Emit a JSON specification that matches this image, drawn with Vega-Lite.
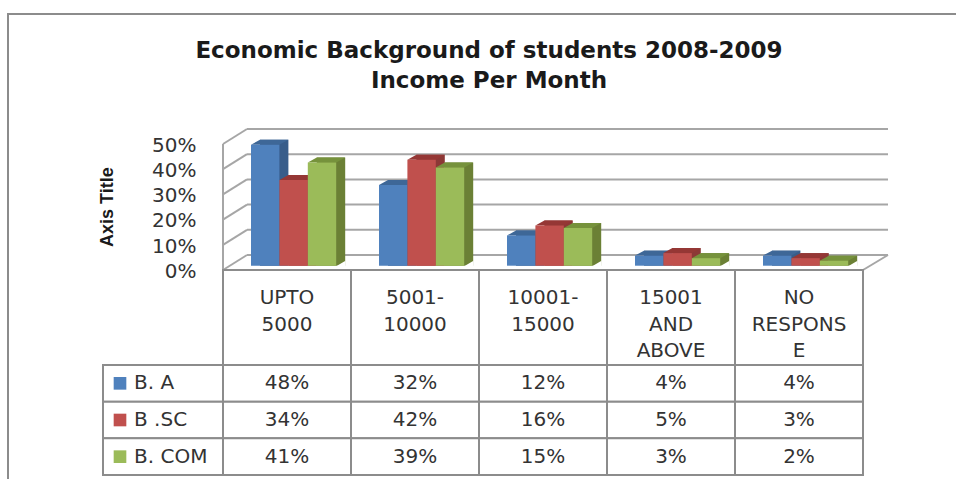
{"$schema":"https://vega.github.io/schema/vega-lite/v6.json","width":640,"height":126,"autosize":"none","padding":{"left":223,"top":139.7,"right":93,"bottom":213.3},"background":"white","title":{"text":["Economic Background of students 2008-2009","Income Per Month"],"anchor":"middle","dx":-54,"offset":-80,"font":"DejaVu Sans","fontSize":23,"fontWeight":"bold","color":"#1a1a1a","lineHeight":30},"view":{"stroke":null},"datasets":{"main":[{"category":"UPTO 5000","series":"B. A","value":0.48},{"category":"UPTO 5000","series":"B .SC","value":0.34},{"category":"UPTO 5000","series":"B. COM","value":0.41},{"category":"5001-10000","series":"B. A","value":0.32},{"category":"5001-10000","series":"B .SC","value":0.42},{"category":"5001-10000","series":"B. COM","value":0.39},{"category":"10001-15000","series":"B. A","value":0.12},{"category":"10001-15000","series":"B .SC","value":0.16},{"category":"10001-15000","series":"B. COM","value":0.15},{"category":"15001 AND ABOVE","series":"B. A","value":0.04},{"category":"15001 AND ABOVE","series":"B .SC","value":0.05},{"category":"15001 AND ABOVE","series":"B. COM","value":0.03},{"category":"NO RESPONSE","series":"B. A","value":0.04},{"category":"NO RESPONSE","series":"B .SC","value":0.03},{"category":"NO RESPONSE","series":"B. COM","value":0.02}],"cats":[{"category":"UPTO 5000","label":"UPTO\n5000"},{"category":"5001-10000","label":"5001-\n10000"},{"category":"10001-15000","label":"10001-\n15000"},{"category":"15001 AND ABOVE","label":"15001\nAND\nABOVE"},{"category":"NO RESPONSE","label":"NO\nRESPONS\nE"}],"levels":[{"level":0},{"level":0.1},{"level":0.2},{"level":0.3},{"level":0.4},{"level":0.5}],"names":[{"series":"B. A","column":"label"},{"series":"B .SC","column":"label"},{"series":"B. COM","column":"label"}],"frame":[{"box":"frame","row":"header"}]},"resolve":{"scale":{"x":"independent","y":"independent","xOffset":"independent","color":"independent"},"axis":{"y":"independent","x":"independent"}},"layer":[{"data":{"name":"frame"},"mark":{"type":"rect","fill":null,"stroke":"#8c8c8c","strokeWidth":2},"encoding":{"x":{"field":"box","type":"nominal","axis":null,"scale":{"range":[-215,760],"paddingInner":0,"paddingOuter":0}},"y":{"field":"box","type":"nominal","axis":null,"scale":{"range":[-125.7,400],"paddingInner":0,"paddingOuter":0}}}},{"data":{"name":"levels"},"mark":{"type":"rule","color":"#a6a6a6","strokeWidth":2,"xOffset":24,"x2Offset":89,"yOffset":-10.7,"y2Offset":-10.7},"encoding":{"x":{"datum":"UPTO 5000","type":"nominal","bandPosition":0,"axis":null,"scale":{"domain":["UPTO 5000","5001-10000","10001-15000","15001 AND ABOVE","NO RESPONSE"],"paddingInner":0,"paddingOuter":0}},"x2":{"datum":"NO RESPONSE"},"y":{"field":"level","type":"quantitative","scale":{"domain":[0,0.5]},"axis":{"format":".0%","values":[0,0.1,0.2,0.3,0.4,0.5],"labelOverlap":false,"labelBound":false,"labelSeparation":0,"domain":false,"ticks":false,"grid":false,"labelFont":"DejaVu Sans","labelFontSize":20,"labelColor":"#333333","labelPadding":27,"labelOffset":5.5,"title":"Axis Title","titleFont":"Liberation Sans","titleFontSize":18,"titleFontWeight":"bold","titleColor":"#1a1a1a","titlePadding":35,"titleY":67}}}},{"encoding":{"x":{"datum":"UPTO 5000","type":"nominal","bandPosition":0,"axis":null,"scale":{"domain":["UPTO 5000","5001-10000","10001-15000","15001 AND ABOVE","NO RESPONSE"],"paddingInner":0,"paddingOuter":0}}},"layer":[{"data":{"name":"levels"},"mark":{"type":"rule","color":"#a6a6a6","strokeWidth":2,"x2Offset":-40,"yOffset":4.3,"y2Offset":-10.7},"encoding":{"x2":{"datum":"UPTO 5000"},"y":{"field":"level","type":"quantitative","axis":null,"scale":{"domain":[0,0.5]}},"y2":{"field":"level"}}},{"data":{"name":"frame"},"mark":{"type":"rule","color":"#a6a6a6","strokeWidth":2,"yOffset":4.3,"y2Offset":4.3},"encoding":{"y":{"datum":0.5,"type":"quantitative","axis":null},"y2":{"datum":0}}},{"data":{"name":"frame"},"mark":{"type":"rule","color":"#a6a6a6","strokeWidth":2,"xOffset":640,"x2Offset":601,"yOffset":4.3,"y2Offset":-10.7},"encoding":{"x2":{"datum":"UPTO 5000"},"y":{"datum":0,"type":"quantitative","axis":null},"y2":{"datum":0}}}]},{"data":{"name":"main"},"mark":{"type":"bar","yOffset":-5},"encoding":{"x":{"field":"category","type":"nominal","axis":null,"sort":null,"scale":{"domain":["UPTO 5000","5001-10000","10001-15000","15001 AND ABOVE","NO RESPONSE"],"paddingInner":0,"paddingOuter":0}},"xOffset":{"field":"series","type":"nominal","scale":{"domain":["B. A","B .SC","B. COM"],"range":[37,122.2],"paddingInner":0,"paddingOuter":0}},"y":{"field":"value","type":"quantitative","stack":null,"axis":null,"scale":{"domain":[0,0.5]}},"y2":{"datum":0},"color":{"field":"series","type":"nominal","legend":null,"scale":{"domain":["B. A","B .SC","B. COM"],"range":["#385D8A","#8C3836","#6B8035"]}}}},{"data":{"name":"main"},"encoding":{"x":{"field":"category","type":"nominal","axis":null,"scale":{"domain":["UPTO 5000","5001-10000","10001-15000","15001 AND ABOVE","NO RESPONSE"],"paddingInner":0,"paddingOuter":0}},"xOffset":{"field":"series","type":"nominal","scale":{"domain":["B. A","B .SC","B. COM"],"range":[28,113.2],"paddingInner":0,"paddingOuter":0}}},"resolve":{"scale":{"color":"independent"}},"layer":[{"mark":{"type":"point","filled":true,"opacity":1,"shape":"M-0.592 0L-0.217 -0.208L0.967 -0.208L0.592 0Z","size":2304},"encoding":{"y":{"field":"value","type":"quantitative","axis":null,"scale":{"domain":[0,0.5]}},"color":{"field":"series","type":"nominal","legend":null,"scale":{"domain":["B. A","B .SC","B. COM"],"range":["#3E6797","#953735","#76923C"]}}}},{"mark":{"type":"bar"},"encoding":{"y":{"field":"value","type":"quantitative","stack":null,"axis":null},"y2":{"datum":0},"color":{"field":"series","type":"nominal","legend":null,"scale":{"domain":["B. A","B .SC","B. COM"],"range":["#4F81BD","#C0504D","#9BBB59"]}}}},{"transform":[{"filter":"datum.series === 'B. COM'"}],"mark":{"type":"point","filled":true,"opacity":1,"color":"white","shape":"M0.592 0.02L0.98 0.02L0.98 -0.208Z","size":2304},"encoding":{"y":{"datum":0,"type":"quantitative","axis":null}}}]},{"data":{"name":"cats"},"encoding":{"x":{"field":"category","type":"nominal","axis":null,"sort":null,"scale":{"domain":["UPTO 5000","5001-10000","10001-15000","15001 AND ABOVE","NO RESPONSE"],"paddingInner":0,"paddingOuter":0}},"y":{"datum":"header","type":"nominal","axis":null,"scale":{"domain":["header"],"range":[130.3,225.3],"paddingInner":0,"paddingOuter":0}}},"layer":[{"mark":{"type":"rect","fill":"white","stroke":"#8c8c8c","strokeWidth":2}},{"mark":{"type":"text","font":"DejaVu Sans","fontSize":20,"color":"#333333","baseline":"top","lineBreak":"\n","lineHeight":26.5,"yOffset":18},"encoding":{"text":{"field":"label"},"y":{"datum":"header","type":"nominal","bandPosition":0,"axis":null}}}]},{"data":{"name":"main"},"encoding":{"x":{"field":"category","type":"nominal","axis":null,"scale":{"domain":["UPTO 5000","5001-10000","10001-15000","15001 AND ABOVE","NO RESPONSE"],"paddingInner":0,"paddingOuter":0}},"y":{"field":"series","type":"nominal","axis":null,"scale":{"domain":["B. A","B .SC","B. COM"],"range":[225.3,335.3],"paddingInner":0,"paddingOuter":0}}},"layer":[{"mark":{"type":"rect","fill":"white","stroke":"#8c8c8c","strokeWidth":2}},{"mark":{"type":"text","font":"DejaVu Sans","fontSize":20,"color":"#333333","baseline":"middle"},"encoding":{"text":{"field":"value","type":"quantitative","format":".0%"}}}]},{"data":{"name":"names"},"encoding":{"x":{"field":"column","type":"nominal","axis":null,"scale":{"domain":["label"],"range":[-120,0],"paddingInner":0,"paddingOuter":0}},"y":{"field":"series","type":"nominal","axis":null,"scale":{"domain":["B. A","B .SC","B. COM"],"range":[225.3,335.3],"paddingInner":0,"paddingOuter":0}}},"layer":[{"mark":{"type":"rect","fill":"white","stroke":"#8c8c8c","strokeWidth":2}},{"mark":{"type":"point","shape":"square","filled":true,"opacity":1,"size":160,"xOffset":17},"encoding":{"x":{"field":"column","type":"nominal","bandPosition":0,"axis":null},"color":{"field":"series","type":"nominal","legend":null,"scale":{"domain":["B. A","B .SC","B. COM"],"range":["#4F81BD","#C0504D","#9BBB59"]}}}},{"mark":{"type":"text","font":"DejaVu Sans","fontSize":20,"color":"#333333","baseline":"middle","align":"left","dx":31},"encoding":{"x":{"field":"column","type":"nominal","bandPosition":0,"axis":null},"text":{"field":"series"}}}]}]}
